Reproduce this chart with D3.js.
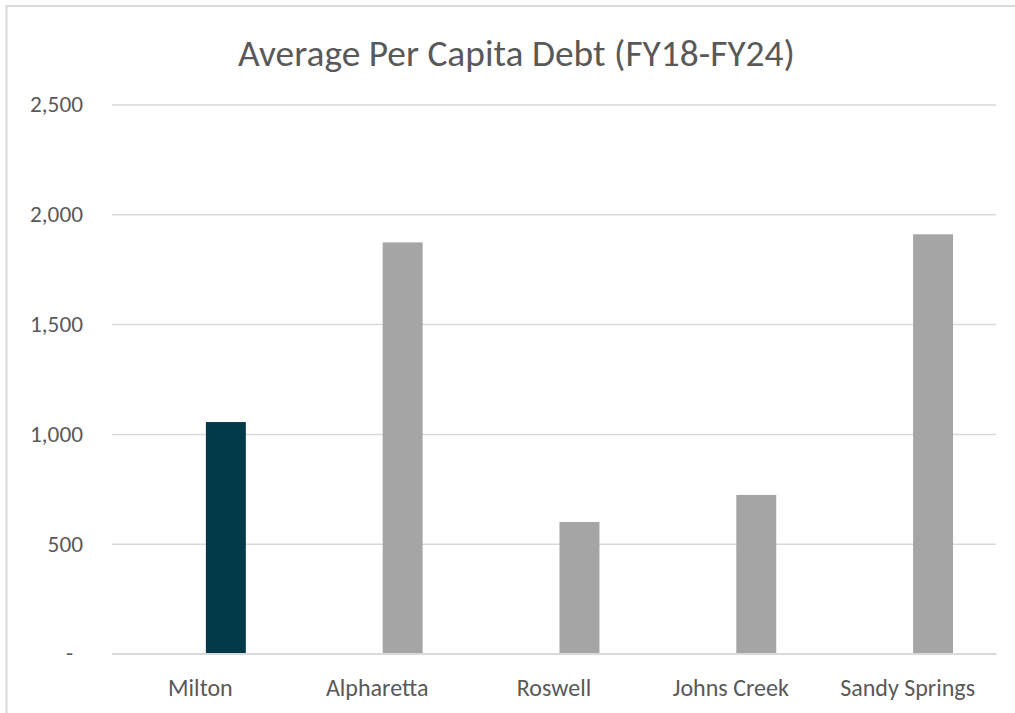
<!DOCTYPE html>
<html>
<head>
<meta charset="utf-8">
<script src="https://cdn.jsdelivr.net/npm/d3@7"></script>
<style>
  html, body { margin: 0; padding: 0; background: #ffffff; }
  svg { display: block; }
  text { font-family: Carlito, Lato, "Open Sans", sans-serif; fill: #595959; }
</style>
</head>
<body>
<svg id="chart" width="1015" height="713"></svg>
<script>
const title = "Average Per Capita Debt (FY18-FY24)";
const categories = ["Milton", "Alpharetta", "Roswell", "Johns Creek", "Sandy Springs"];
const values = [1054, 1872, 599, 722, 1909];
const highlight = "Milton";
const yTicks = [0, 500, 1000, 1500, 2000, 2500];

const W = 1015, H = 713;
const plot = { left: 112, right: 996, top: 104.5, bottom: 653.5 };

const svg = d3.select("#chart");

// chart border
svg.append("rect")
  .attr("x", 6.5).attr("y", 6).attr("width", 1020).attr("height", 720)
  .attr("fill", "#ffffff").attr("stroke", "#d9d9d9").attr("stroke-width", 2);

const x = d3.scaleBand().domain(categories).range([plot.left, plot.right]).padding(0);
const y = d3.scaleLinear().domain([0, 2500]).range([plot.bottom, plot.top]);

// fit a font size so a sample string matches a width
function fitSize(sample, target, base) {
  const t = svg.append("text").attr("font-size", base).text(sample);
  const w = t.node().getComputedTextLength();
  t.remove();
  return base * target / w;
}
const titleSize = fitSize(title, 557, 28);
const tickSize = fitSize("2,500", 53, 20);
const catSize = fitSize("Sandy Springs", 135, 20);

// gridlines
const yAxis = d3.axisLeft(y).tickValues(yTicks).tickSize(-(plot.right - plot.left)).tickPadding(29)
  .tickFormat(d => d === 0 ? "-" : d3.format(",")(d));
const gy = svg.append("g").attr("transform", `translate(${plot.left},0)`).call(yAxis);
gy.select(".domain").remove();
gy.selectAll(".tick line").attr("stroke", "#d9d9d9").attr("stroke-width", 1.5);
gy.selectAll(".tick text")
  .attr("fill", "#595959")
  .attr("font-size", tickSize)
  .attr("font-family", "Carlito, Lato, 'Open Sans', sans-serif")
  .attr("dx", d => d === 0 ? -10 : 0);

// bars
const bw = x.bandwidth();
svg.append("g").selectAll("rect")
  .data(categories.map((c, i) => ({ c, v: values[i] })))
  .join("rect")
  .attr("x", d => x(d.c) + bw * 0.531)
  .attr("width", bw * 0.226)
  .attr("y", d => y(d.v))
  .attr("height", d => y(0) - y(d.v))
  .attr("fill", d => d.c === highlight ? "#033a4a" : "#a5a5a5");

// category axis
const xAxis = d3.axisBottom(x).tickSize(0).tickPadding(25);
const gx = svg.append("g").attr("transform", `translate(0,${plot.bottom})`).call(xAxis);
gx.select(".domain").attr("stroke", "#d9d9d9").attr("stroke-width", 2);
gx.selectAll(".tick text")
  .attr("fill", "#595959")
  .attr("font-size", catSize)
  .attr("font-family", "Carlito, Lato, 'Open Sans', sans-serif");

// title
svg.append("text")
  .attr("x", 516.5).attr("y", 66)
  .attr("text-anchor", "middle")
  .attr("font-size", titleSize)
  .attr("font-weight", 300)
  .text(title);
</script>
</body>
</html>
